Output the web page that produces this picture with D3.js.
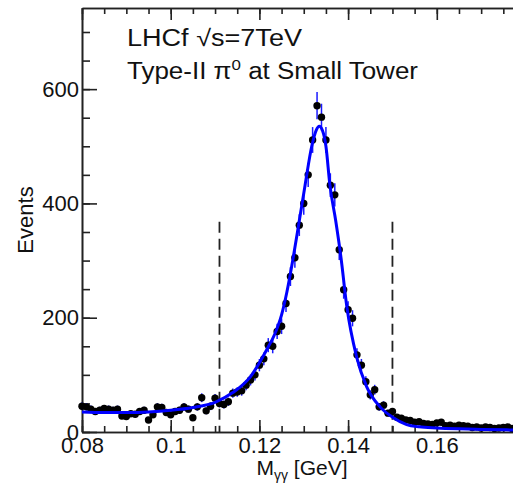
<!DOCTYPE html>
<html>
<head>
<meta charset="utf-8">
<script src="https://cdn.jsdelivr.net/npm/d3@7"></script>
<style>
  body { margin: 0; background: #fff; }
  text { font-family: "Liberation Sans", Arial, sans-serif; fill: #111; }
</style>
</head>
<body>
<div id="viz"></div>
<script>
// histogram of M_gg, one entry per bin starting at binStart
var binStart = 0.080;
var binWidth = 0.001;
var events = [
    45, 44, 40, 36, 38, 41, 40, 38, 40, 28,
    27, 32, 31, 36, 38, 21, 30, 44, 43, 34,
    30, 36, 38, 44, 40, 25, 44, 60, 37, 45,
    59, 50, 48, 53, 68, 70, 72, 82, 91, 100,
    117, 128, 152, 150, 176, 185, 225, 272, 305, 362,
    400, 450, 511, 571, 551, 511, 432, 415, 319, 249,
    214, 199, 135, 117, 88, 65, 74, 44, 47, 33,
    36, 26, 24, 21, 20, 17, 18, 15, 14, 13,
    16, 17, 11, 12, 10, 12, 11, 10, 8, 9,
    7, 9, 8, 6, 7, 8, 9, 6
];

// fitted curve
var fitMass = [0.080, 0.085, 0.090, 0.095, 0.100, 0.105, 0.110, 0.114, 0.118, 0.1215,
    0.1235, 0.125, 0.1262, 0.1276, 0.129, 0.1303, 0.1318, 0.1328, 0.1335, 0.1342,
    0.135, 0.1359, 0.1372, 0.1384, 0.1397, 0.1419, 0.1442, 0.1472, 0.1502, 0.1532,
    0.156, 0.160, 0.165, 0.170, 0.178];
var fitEvents = [35, 34, 34, 35, 38, 43, 52, 69, 97, 142,
    172, 205, 245, 304, 370, 432, 500, 528, 535, 528,
    500, 432, 370, 305, 220, 132, 79, 44, 25, 13,
    9, 7, 5.5, 4.5, 3.5];

// mass window cuts
var cutMass = [0.111, 0.150];
var cutTop = 368;

var xTicks = [0.08, 0.1, 0.12, 0.14, 0.16];
var xTickLabels = ["0.08", "0.1", "0.12", "0.14", "0.16"];
var xMinorTicks = d3.range(0.08, 0.1801, 0.005);
var yTicks = [0, 200, 400, 600];
var yMinorTicks = d3.range(0, 741, 50);

var width = 513, height = 483;
var padLeft = 82, padBottom = 432, padTop = 8;

var svg = d3.select("#viz")
    .append("svg")
    .attr("width", width)
    .attr("height", height);

var x = d3.scaleLinear().domain([0.08, 0.18]).range([padLeft, padLeft + 0.1 * 4435]);
var y = d3.scaleLinear().domain([0, 742]).range([padBottom, padTop]);

function styleAxis(g) {
    g.selectAll("path, line").attr("stroke", "#222").attr("stroke-width", 1.6);
    g.selectAll("text").style("font-size", "22px").attr("fill", "#111");
}

// bottom axis
svg.append("g")
    .attr("transform", "translate(0," + padBottom + ")")
    .call(d3.axisBottom(x).tickValues(xMinorTicks).tickSize(-6).tickSizeOuter(0).tickFormat(""))
    .call(styleAxis);
svg.append("g")
    .attr("transform", "translate(0," + padBottom + ")")
    .call(d3.axisBottom(x).tickValues(xTicks).tickSize(-12).tickSizeOuter(0)
        .tickFormat(function (d, i) { return xTickLabels[i]; }))
    .call(styleAxis)
    .call(function (g) { g.selectAll("text").attr("y", 21).attr("dy", null); });

// top axis, no labels
svg.append("g")
    .attr("transform", "translate(0," + padTop + ")")
    .call(d3.axisTop(x).tickValues(xMinorTicks).tickSize(-6).tickSizeOuter(0).tickFormat(""))
    .call(styleAxis);
svg.append("g")
    .attr("transform", "translate(0," + padTop + ")")
    .call(d3.axisTop(x).tickValues(xTicks).tickSize(-12).tickSizeOuter(0).tickFormat(""))
    .call(styleAxis);

// left axis
svg.append("g")
    .attr("transform", "translate(" + padLeft + ",0)")
    .call(d3.axisLeft(y).tickValues(yMinorTicks).tickSize(-8).tickSizeOuter(0).tickFormat(""))
    .call(styleAxis);
svg.append("g")
    .attr("transform", "translate(" + padLeft + ",0)")
    .call(d3.axisLeft(y).tickValues(yTicks).tickSize(-15).tickSizeOuter(0).tickPadding(3)
        .tickFormat(d3.format("d")))
    .call(styleAxis);

// dashed cut lines
svg.selectAll(".cut")
    .data(cutMass)
    .enter().append("line")
    .attr("class", "cut")
    .attr("x1", function (d) { return x(d); })
    .attr("x2", function (d) { return x(d); })
    .attr("y1", y(cutTop))
    .attr("y2", y(0))
    .attr("stroke", "#222")
    .attr("stroke-width", 1.8)
    .attr("stroke-dasharray", "11,6");

var bins = events.map(function (v, i) { return { m: binStart + i * binWidth, n: v }; });

// error bars
svg.selectAll(".err")
    .data(bins)
    .enter().append("line")
    .attr("class", "err")
    .attr("x1", function (d) { return x(d.m); })
    .attr("x2", function (d) { return x(d.m); })
    .attr("y1", function (d) { return y(d.n + Math.sqrt(d.n)); })
    .attr("y2", function (d) { return y(Math.max(0, d.n - Math.sqrt(d.n))); })
    .attr("stroke", "#1a1aff")
    .attr("stroke-width", 1.5);

// data points
svg.selectAll(".pt")
    .data(bins)
    .enter().append("circle")
    .attr("class", "pt")
    .attr("cx", function (d) { return x(d.m); })
    .attr("cy", function (d) { return y(d.n); })
    .attr("r", 3.7)
    .attr("fill", "#000");

// fit curve
var fitLine = d3.line()
    .x(function (d, i) { return x(fitMass[i]); })
    .y(function (d) { return y(d); })
    .curve(d3.curveMonotoneX);

svg.append("path")
    .datum(fitEvents)
    .attr("d", fitLine)
    .attr("fill", "none")
    .attr("stroke", "#0000ff")
    .attr("stroke-width", 3);

// labels
svg.append("text")
    .attr("x", 127).attr("y", 46)
    .attr("textLength", 175).attr("lengthAdjust", "spacingAndGlyphs")
    .style("font-size", "23px")
    .text("LHCf \u221As=7TeV");

var t2 = svg.append("text")
    .attr("x", 127).attr("y", 79)
    .attr("textLength", 291).attr("lengthAdjust", "spacingAndGlyphs")
    .style("font-size", "23px");
t2.append("tspan").text("Type-II \u03C0");
t2.append("tspan").attr("dy", -9).style("font-size", "15px").text("0");
t2.append("tspan").attr("dy", 9).text(" at Small Tower");

var xt = svg.append("text")
    .attr("x", 302).attr("y", 475)
    .attr("text-anchor", "middle")
    .style("font-size", "21px");
xt.append("tspan").text("M");
xt.append("tspan").attr("dy", 5).style("font-size", "14px").text("\u03B3\u03B3");
xt.append("tspan").attr("dy", -5).text(" [GeV]");

svg.append("text")
    .attr("transform", "translate(33,220) rotate(-90)")
    .attr("text-anchor", "middle")
    .style("font-size", "22px")
    .text("Events");
</script>
</body>
</html>
